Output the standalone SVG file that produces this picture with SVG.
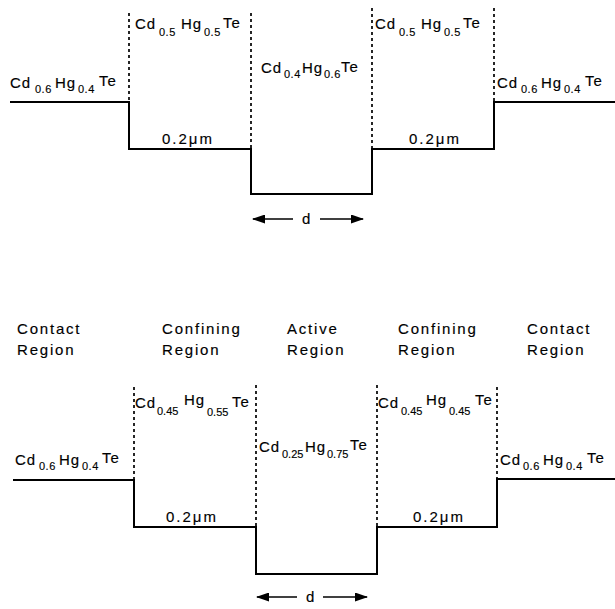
<svg xmlns="http://www.w3.org/2000/svg" width="615" height="609" viewBox="0 0 615 609">
<style>
text{font-family:"Liberation Sans",Arial,sans-serif;fill:#000;stroke:#000;stroke-width:0.15}
.m{font-size:15px;letter-spacing:1px}
.s{font-size:11px;letter-spacing:0.5px}
.s4{font-size:11px;letter-spacing:0}
.h{font-size:15px;letter-spacing:1.8px}
.u{font-size:15px;letter-spacing:2px}
.solid{fill:none;stroke:#000;stroke-width:2}
.dot{fill:none;stroke:#000;stroke-width:1.7;stroke-dasharray:3 3}
.arr{stroke:#000;stroke-width:1.6;fill:none}
</style>
<defs>
<marker id="ah" viewBox="0 0 13 9" refX="12" refY="4.5" markerWidth="13" markerHeight="9" markerUnits="userSpaceOnUse" orient="auto-start-reverse">
<path d="M0,0 L13,4.5 L0,9 Z" fill="#000"/>
</marker>
</defs>
<rect width="615" height="609" fill="#fff"/>

<!-- top profile -->
<g id="profile-top">
<path class="solid" d="M10,102 H129 V149 H251 V194 H372 V149 H494 V102 H615"/>
<path class="dot" d="M129,13 V102 M251,13 V149 M372,8 V149 M494,8 V102"/>
</g>
<g id="top-contact-left"><text class="m"><tspan x="10" y="88">Cd</tspan><tspan class="s" x="35" y="93">0.6</tspan><tspan x="55" y="88">Hg</tspan><tspan class="s" x="78" y="93">0.4</tspan><tspan x="99" y="86">Te</tspan></text></g>
<g id="top-confining-left"><text class="m"><tspan x="135" y="29">Cd</tspan><tspan class="s" x="159" y="36">0.5</tspan><tspan x="181" y="29">Hg</tspan><tspan class="s" x="204" y="36">0.5</tspan><tspan x="223" y="28">Te</tspan></text>
<text class="u" x="162" y="144">0.2μm</text></g>
<g id="top-active"><text class="m"><tspan x="261" y="73">Cd</tspan><tspan class="s" x="284" y="78">0.4</tspan><tspan x="302" y="73">Hg</tspan><tspan class="s" x="324" y="78">0.6</tspan><tspan x="341" y="72">Te</tspan></text></g>
<g id="top-confining-right"><text class="m"><tspan x="375" y="29">Cd</tspan><tspan class="s" x="399" y="36">0.5</tspan><tspan x="421" y="29">Hg</tspan><tspan class="s" x="444" y="36">0.5</tspan><tspan x="463" y="28">Te</tspan></text>
<text class="u" x="409" y="144">0.2μm</text></g>
<g id="top-contact-right"><text class="m"><tspan x="497" y="88">Cd</tspan><tspan class="s" x="521" y="93">0.6</tspan><tspan x="541" y="88">Hg</tspan><tspan class="s" x="564" y="93">0.4</tspan><tspan x="585" y="86">Te</tspan></text></g>

<!-- bottom headers -->
<g id="hdr-contact-left"><text class="h" x="17" y="334">Contact</text><text class="h" x="17" y="355">Region</text></g>
<g id="hdr-confining-left"><text class="h" x="162" y="334">Confining</text><text class="h" x="162" y="355">Region</text></g>
<g id="hdr-active"><text class="h" x="287" y="334">Active</text><text class="h" x="287" y="355">Region</text></g>
<g id="hdr-confining-right"><text class="h" x="398" y="334">Confining</text><text class="h" x="398" y="355">Region</text></g>
<g id="hdr-contact-right"><text class="h" x="527" y="334">Contact</text><text class="h" x="527" y="355">Region</text></g>

<!-- bottom profile -->
<g id="profile-bottom">
<path class="solid" d="M13,480 H134 V527 H256 V574 H377 V527 H497 V479 H615"/>
<path class="dot" d="M134,387 V480 M256,385 V527 M377,385 V527 M497,387 V479"/>
</g>
<g id="bot-contact-left"><text class="m"><tspan x="15" y="465">Cd</tspan><tspan class="s" x="39" y="470">0.6</tspan><tspan x="59" y="465">Hg</tspan><tspan class="s" x="82" y="470">0.4</tspan><tspan x="102" y="463">Te</tspan></text></g>
<g id="bot-confining-left"><text class="m"><tspan x="135" y="408">Cd</tspan><tspan class="s4" x="157" y="415">0.45</tspan><tspan x="184" y="405">Hg</tspan><tspan class="s4" x="207" y="416">0.55</tspan><tspan x="232" y="407">Te</tspan></text>
<text class="u" x="166" y="522">0.2μm</text></g>
<g id="bot-active"><text class="m"><tspan x="259" y="452">Cd</tspan><tspan class="s4" x="282" y="458">0.25</tspan><tspan x="305" y="452">Hg</tspan><tspan class="s4" x="327" y="458">0.75</tspan><tspan x="350" y="450">Te</tspan></text></g>
<g id="bot-confining-right"><text class="m"><tspan x="378" y="408">Cd</tspan><tspan class="s4" x="401" y="415">0.45</tspan><tspan x="426" y="405">Hg</tspan><tspan class="s4" x="449" y="415">0.45</tspan><tspan x="475" y="405">Te</tspan></text>
<text class="u" x="413" y="522">0.2μm</text></g>
<g id="bot-contact-right"><text class="m"><tspan x="500" y="465">Cd</tspan><tspan class="s" x="523" y="470">0.6</tspan><tspan x="543" y="465">Hg</tspan><tspan class="s" x="566" y="470">0.4</tspan><tspan x="587" y="463">Te</tspan></text></g>

<!-- dimension arrows -->
<g id="connectors">
<line class="arr" x1="293" y1="219" x2="253" y2="219" marker-end="url(#ah)"/>
<line class="arr" x1="320" y1="219" x2="363" y2="219" marker-end="url(#ah)"/>
<line class="arr" x1="297" y1="597" x2="257" y2="597" marker-end="url(#ah)"/>
<line class="arr" x1="323" y1="597" x2="367" y2="597" marker-end="url(#ah)"/>
</g>
<g id="dim-labels">
<text class="m" x="302" y="224">d</text>
<text class="m" x="306" y="602">d</text>
</g>
</svg>
